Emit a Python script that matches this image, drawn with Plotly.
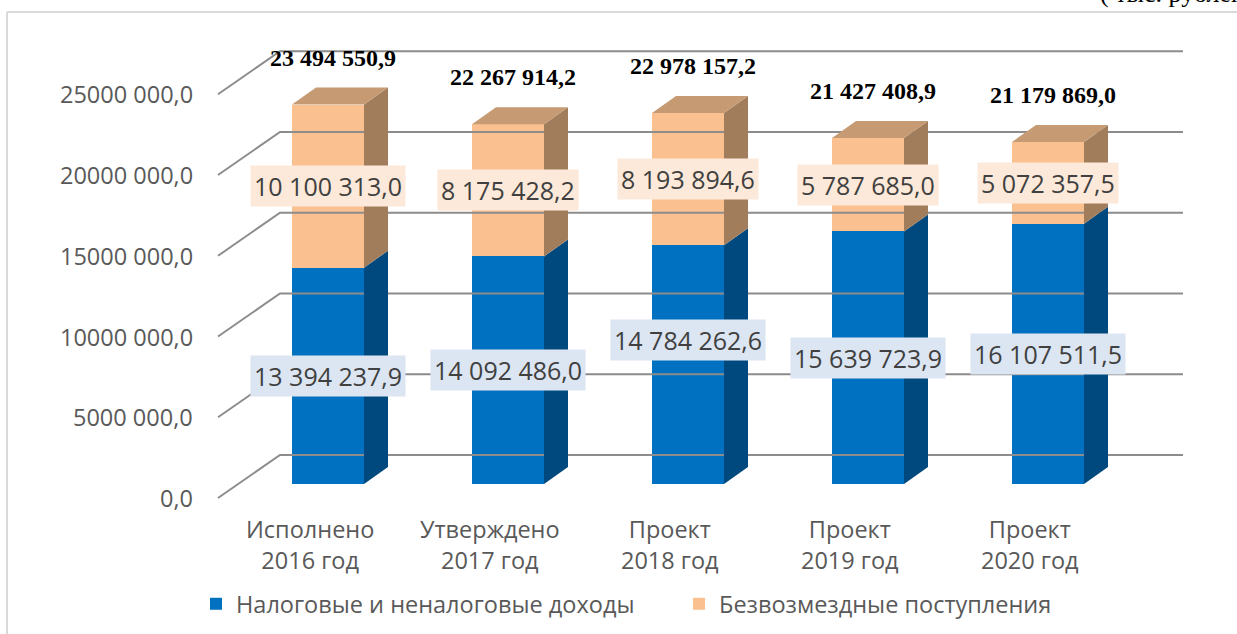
import numpy as np
import plotly.graph_objects as go

# ---------------- data ----------------
categories = ["Исполнено<br>2016 год", "Утверждено<br>2017 год", "Проект<br>2018 год",
              "Проект<br>2019 год", "Проект<br>2020 год"]
tax_income = [13394237.9, 14092486.0, 14784262.6, 15639723.9, 16107511.5]
grants = [10100313.0, 8175428.2, 8193894.6, 5787685.0, 5072357.5]
totals = [23494550.9, 22267914.2, 22978157.2, 21427408.9, 21179869.0]
y_ticks = [0, 5000000, 10000000, 15000000, 20000000, 25000000]
y_tick_labels = ["0,0", "5000 000,0", "10000 000,0", "15000 000,0", "20000 000,0", "25000 000,0"]
series_names = ["Налоговые и неналоговые доходы", "Безвозмездные поступления"]
unit_label = "( тыс. рублей)"

# ---------------- geometry / style ----------------
W, H = 1237, 634
PX_X = 180.0          # px per category
X0_PX = 328.0         # px of first category centre
PX_Y = 16.15 / 1e6    # px per value unit
BASE_PX = 484.0       # px of value 0 at bar front
BAR_W = 0.4
DX = 24 / PX_X        # 3D depth of bars
DY = 17 / PX_Y
WALL_BACK = 29 / PX_Y         # back wall offset
FRONT_EDGE = -14 / PX_Y       # front floor edge offset
X_FRONT = (218 - X0_PX) / PX_X
X_BACK = (280 - X0_PX) / PX_X
X_RIGHT = (1183 - X0_PX) / PX_X

BLUE, BLUE_SIDE = "#0070C0", "#00497E"
ORANGE, ORANGE_SIDE, ORANGE_TOP = "#FAC090", "#A27D5B", "#C69B73"
GRID = "#8C8C8C"
TXT = "#595959"
FONT = "Open Sans"
FS = 23.5

x = np.arange(len(categories), dtype=float)
tax = np.array(tax_income)
gr = np.array(grants)
tot = tax + gr


def fmt(v):
    return f"{v:,.1f}".replace(",", " ").replace(".", ",")


fig = go.Figure()

# gridlines: left wall diagonals + back wall horizontals
gx, gy = [], []
for t in y_ticks:
    gx += [X_FRONT, X_BACK, X_RIGHT, None]
    gy += [t + FRONT_EDGE, t + WALL_BACK, t + WALL_BACK, None]
fig.add_trace(go.Scatter(x=gx, y=gy, mode="lines", line=dict(color=GRID, width=2),
                         hoverinfo="skip", showlegend=False))

# 3D side and top faces
def poly(xs, ys, color):
    fig.add_trace(go.Scatter(x=xs, y=ys, mode="lines", fill="toself", fillcolor=color,
                             line=dict(width=0, color=color), hoverinfo="skip",
                             showlegend=False))

for i in range(len(x)):
    xr = x[i] + BAR_W / 2
    xl = x[i] - BAR_W / 2
    poly([xr, xr + DX, xr + DX, xr, xr], [0, DY, tax[i] + DY, tax[i], 0], BLUE_SIDE)
    poly([xr, xr + DX, xr + DX, xr, xr], [tax[i], tax[i] + DY, tot[i] + DY, tot[i], tax[i]],
         ORANGE_SIDE)
    poly([xl, xr, xr + DX, xl + DX, xl], [tot[i], tot[i], tot[i] + DY, tot[i] + DY, tot[i]],
         ORANGE_TOP)

# front faces
fig.add_trace(go.Bar(x=x, y=tax, width=BAR_W, name=series_names[0],
                     marker=dict(color=BLUE, line=dict(width=0))))
fig.add_trace(go.Bar(x=x, y=gr, width=BAR_W, name=series_names[1],
                     marker=dict(color=ORANGE, line=dict(width=0))))

ann = []
for t, lab in zip(y_ticks, y_tick_labels):
    ann.append(dict(x=(195 - X0_PX) / PX_X, y=t + FRONT_EDGE, text=lab, xanchor="right",
                    yanchor="middle", showarrow=False, font=dict(family=FONT, size=FS, color=TXT)))
for i, c in enumerate(categories):
    ann.append(dict(x=x[i] - 0.1, y=0, yshift=-60, text=c, xanchor="center", yanchor="middle",
                    showarrow=False, font=dict(family=FONT, size=FS, color=TXT)))
label_shift = {2: 25}
for i in range(len(x)):
    ann.append(dict(x=x[i], y=tax[i] / 2, yshift=label_shift.get(i, 0), text=fmt(tax[i]),
                    showarrow=False, bgcolor="#DCE6F2", borderpad=3,
                    font=dict(family=FONT, size=25, color="#404040")))
    ann.append(dict(x=x[i], y=tax[i] + gr[i] / 2, text=fmt(gr[i]), showarrow=False,
                    bgcolor="#FDE9D9", borderpad=3,
                    font=dict(family=FONT, size=25, color="#404040")))
    ann.append(dict(x=x[i] + 0.03, y=totals[i] + DY, yshift=30, text="<b>" + fmt(totals[i]) + "</b>",
                    showarrow=False,
                    font=dict(family="Liberation Serif", size=24, color="black")))
ann.append(dict(xref="paper", yref="paper", x=1098 / W, y=1 - 10 / H, xanchor="left",
                yanchor="bottom", text=unit_label, showarrow=False,
                font=dict(family="Liberation Serif", size=26, color="black")))

fig.update_layout(
    width=W, height=H, margin=dict(l=0, r=0, t=0, b=0, autoexpand=False),
    paper_bgcolor="white", plot_bgcolor="white",
    barmode="stack", bargap=0,
    xaxis=dict(range=[-X0_PX / PX_X, (W - X0_PX) / PX_X], visible=False, fixedrange=True),
    yaxis=dict(range=[-(H - BASE_PX) / PX_Y, BASE_PX / PX_Y], visible=False, fixedrange=True),
    annotations=ann,
    showlegend=True,
    legend=dict(orientation="h", x=196 / W, y=1 - 604 / H, xanchor="left", yanchor="middle",
                font=dict(family=FONT, size=23.5, color=TXT), traceorder="normal",
                entrywidth=438, itemclick=False, itemdoubleclick=False),
    shapes=[
        dict(type="line", xref="paper", yref="paper", x0=7 / W, x1=1, y0=1 - 12 / H, y1=1 - 12 / H,
             line=dict(color="#D9D9D9", width=2)),
        dict(type="line", xref="paper", yref="paper", x0=7 / W, x1=7 / W, y0=0, y1=1 - 12 / H,
             line=dict(color="#D9D9D9", width=2)),
    ],
)

fig.write_html("out.html", config={"displayModeBar": False},
               post_script="document.body.style.margin='0';")
